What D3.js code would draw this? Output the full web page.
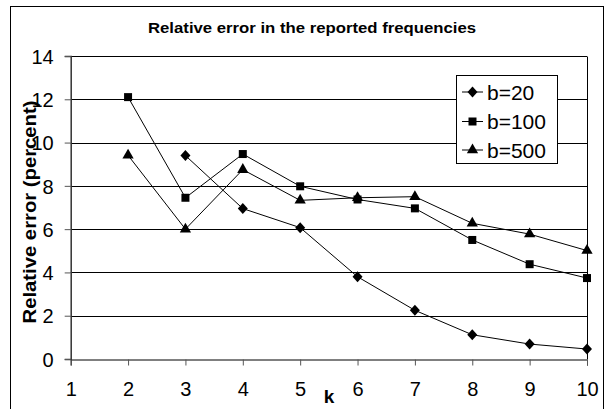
<!DOCTYPE html>
<html><head><meta charset="utf-8">
<script src="https://cdn.jsdelivr.net/npm/d3@7"></script>
<style>body{margin:0;background:#fff}svg{display:block}text{font-family:"Liberation Sans",Arial,sans-serif}</style>
</head><body>
<script>
const kValues = [1,2,3,4,5,6,7,8,9,10];
const yTicks = [0,2,4,6,8,10,12,14];
const seriesNames = ["b=20","b=100","b=500"];
const b20 = [null,null,9.4,6.95,6.07,3.8,2.25,1.12,0.69,0.46];
const b100 = [null,12.1,7.45,9.47,7.98,7.37,6.96,5.5,4.38,3.74];
const b500 = [null,9.41,6.0,8.75,7.33,7.45,7.5,6.27,5.77,5.01];
const titleText = "Relative error in the reported frequencies";
const yTitle = "Relative error (percent)";
const xTitle = "k";

const W=605,H=409;
const svg=d3.select("body").append("svg").attr("width",W).attr("height",H);
svg.append("rect").attr("x",10.5).attr("y",6.5).attr("width",593).attr("height",420)
  .attr("fill","#fff").attr("stroke","#000").attr("stroke-width",1);

const x=d3.scaleLinear().domain([1,10]).range([70.7,587]);
const y=d3.scaleLinear().domain([0,14]).range([359,56]);

// wide diamond symbol
const symbolWideDiamond={draw(ctx,size){const r=Math.sqrt(size)/2;ctx.moveTo(0,-r*1.1);ctx.lineTo(r,0);ctx.lineTo(0,r*1.1);ctx.lineTo(-r,0);ctx.closePath();}};

// gridlines
svg.append("g").selectAll("line").data(yTicks.filter(d=>d>0)).join("line")
  .attr("x1",x(1)).attr("x2",x(10)).attr("y1",d=>Math.round(y(d))+0.5).attr("y2",d=>Math.round(y(d))+0.5)
  .attr("stroke","#000").attr("stroke-width",1);
// right border
svg.append("line").attr("x1",587.5).attr("x2",587.5).attr("y1",Math.round(y(14))+0.5).attr("y2",Math.round(y(0))+0.5).attr("stroke","#000");

// axes
const yAxis=d3.axisLeft(y).tickValues(yTicks).tickSize(6).tickPadding(11);
const gy=svg.append("g").attr("transform","translate(70.7,0)").call(yAxis);
gy.select(".domain").attr("stroke","#333").attr("stroke-width",1.5);
gy.selectAll(".tick line").attr("stroke","#555");
gy.selectAll("text").attr("font-size",20).attr("fill","#000").attr("font-family","Liberation Sans, Arial").attr("dy","0.36em");

const xAxis=d3.axisBottom(x).tickValues(kValues).tickFormat(d3.format("d")).tickSize(6).tickPadding(16);
const gx=svg.append("g").attr("transform","translate(0,"+(Math.round(y(0))+0.5)+")").call(xAxis);
gx.select(".domain").attr("stroke","#000").attr("stroke-width",1);
gx.selectAll(".tick line").attr("stroke","#555");
gx.selectAll("text").attr("font-size",20).attr("fill","#000").attr("font-family","Liberation Sans, Arial");

// series
const series=[{name:seriesNames[0],vals:b20,sym:symbolWideDiamond,size:100},
              {name:seriesNames[1],vals:b100,sym:d3.symbolSquare,size:64},
              {name:seriesNames[2],vals:b500,sym:d3.symbolTriangle,size:55}];
const line=d3.line().defined(d=>d.v!=null).x(d=>x(d.k)).y(d=>y(d.v));
series.forEach(s=>{
  const pts=kValues.map((k,i)=>({k,v:s.vals[i]}));
  svg.append("path").attr("d",line(pts)).attr("fill","none").attr("stroke","#000").attr("stroke-width",1);
  svg.append("g").selectAll("path").data(pts.filter(d=>d.v!=null)).join("path")
    .attr("transform",d=>`translate(${x(d.k)},${y(d.v)})`)
    .attr("d",d3.symbol().type(s.sym).size(s.size)).attr("fill","#000");
});

// legend
const lg=svg.append("g");
lg.append("rect").attr("x",456.5).attr("y",75.5).attr("width",101).attr("height",88).attr("fill","#fff").attr("stroke","#000");
series.forEach((s,i)=>{
  const cy=[92,121.5,150][i];
  lg.append("line").attr("x1",462).attr("x2",483).attr("y1",cy).attr("y2",cy).attr("stroke","#000");
  lg.append("path").attr("transform",`translate(472.5,${cy})`).attr("d",d3.symbol().type(s.sym).size(s.size)).attr("fill","#000");
  lg.append("text").attr("x",487).attr("y",cy).attr("dy","0.36em").attr("font-size",21).text(s.name);
});

// titles
svg.append("text").attr("x",312).attr("y",33).attr("text-anchor","middle").attr("font-size",15.5).attr("font-weight","bold")
  .attr("textLength",328).attr("lengthAdjust","spacingAndGlyphs").text(titleText);
svg.append("text").attr("transform","translate(36,212) rotate(-90)").attr("text-anchor","middle").attr("font-size",18.5).attr("font-weight","bold")
  .attr("textLength",223).attr("lengthAdjust","spacingAndGlyphs").text(yTitle);
svg.append("text").attr("x",329).attr("y",403).attr("text-anchor","middle").attr("font-size",19).attr("font-weight","bold").text(xTitle);
</script>
</body></html>
